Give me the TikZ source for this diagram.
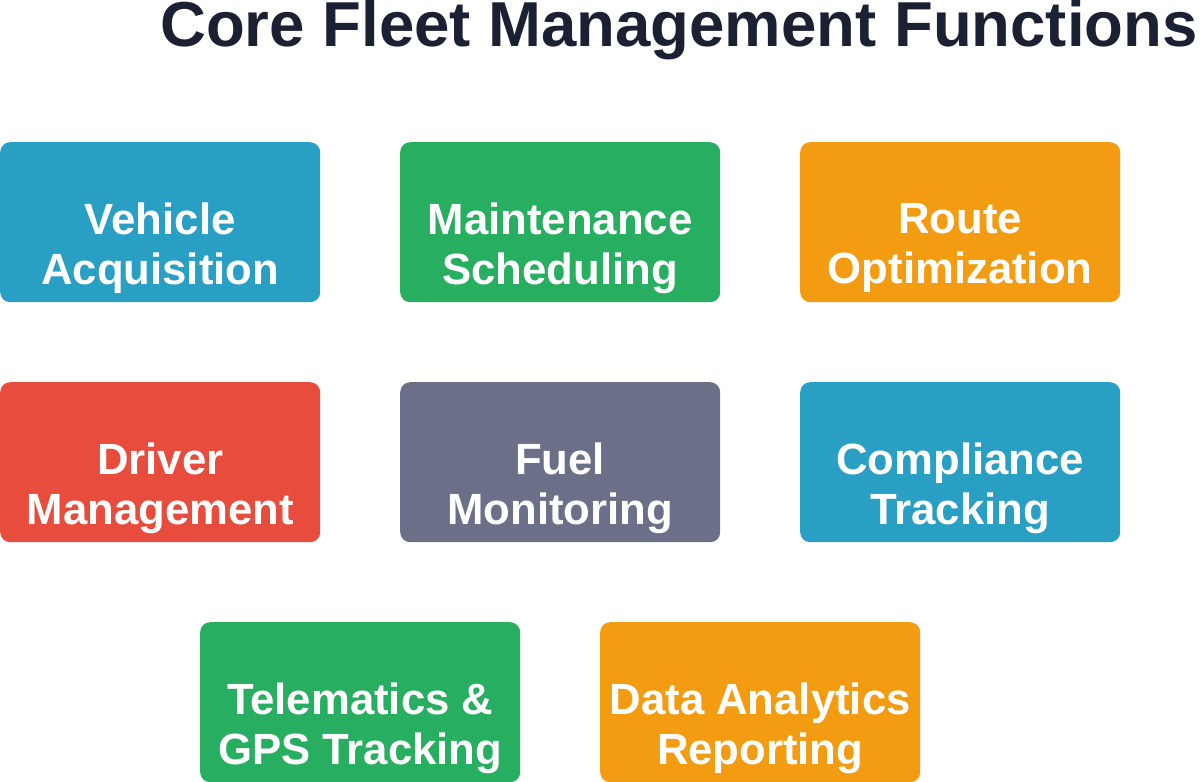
\documentclass[tikz,border=0pt]{standalone}
\usepackage{fontspec}
\setmainfont{Liberation Sans}
\usetikzlibrary{positioning}
\definecolor{cblue}{HTML}{2A9FC4}
\definecolor{cgreen}{HTML}{27AE60}
\definecolor{corange}{HTML}{F39C12}
\definecolor{cred}{HTML}{E74C3C}
\definecolor{cgray}{HTML}{6B7088}
\definecolor{ctitle}{HTML}{1C2033}
\tikzset{
  fnbox/.style={rounded corners=10pt, minimum width=320pt, minimum height=160pt, inner sep=0pt, anchor=north west},
  fntext/.style={text=white, font=\fontsize{43.7}{50}\selectfont\bfseries, align=center, inner sep=0pt}
}
\begin{document}
\begin{tikzpicture}[x=1pt,y=1pt]
	\useasboundingbox (0,0) rectangle (1200,-782);
	% Title
	\node[text=ctitle, font=\fontsize{63.5}{70}\selectfont\bfseries, inner sep=0pt] (title) at (679,-30) {Core Fleet Management Functions};
	
	% Function boxes
	\foreach \name/\x/\y/\col/\txt in {
		acq/0/142/cblue/{Vehicle\\Acquisition},
		maint/400/142/cgreen/{Maintenance\\Scheduling},
		route/800/142/corange/{Route\\Optimization},
		driver/0/382/cred/{Driver\\Management},
		fuel/400/382/cgray/{Fuel\\Monitoring},
		comp/800/382/cblue/{Compliance\\Tracking},
		gps/200/622/cgreen/{Telematics \&\\GPS Tracking},
		data/600/622/corange/{Data Analytics\\Reporting}} {
		\node[fnbox, fill=\col] (\name) at (\x,-\y) {};
		\node[fntext] (\name-txt) at ([yshift=-26pt]\name.center) {\txt};
	}
\end{tikzpicture}
\end{document}
